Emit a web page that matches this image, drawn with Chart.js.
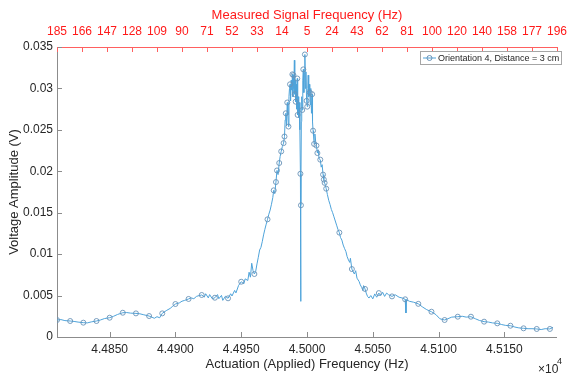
<!DOCTYPE html>
<html lang="en">
  <head>
    <meta charset="UTF-8" />
    <title>Voltage amplitude vs actuation frequency</title>
    <script src="https://cdn.jsdelivr.net/npm/chart.js"></script>
    <style>
      html, body { margin: 0; padding: 0; background: #fff; }
      canvas { display: block; }
    </style>
  </head>
  <body>
    <canvas id="sweep-chart" width="575" height="376"></canvas>

    <script>
      // actuation frequency (Hz) and measured amplitude (V)
      const freqHz = [
        44810, 44813, 44816, 44820, 44823, 44826, 44830, 44833, 44836, 44840,
        44843, 44846, 44850, 44853, 44856, 44860, 44863, 44866, 44870, 44873,
        44876, 44880, 44882, 44884, 44886, 44888, 44890, 44893, 44896, 44898,
        44900, 44903, 44905, 44907, 44910, 44912, 44914, 44916, 44918, 44920,
        44922, 44923, 44925, 44926, 44928, 44930, 44932, 44933, 44935, 44936,
        44938, 44940, 44942, 44943, 44945, 44946, 44948, 44950, 44952, 44953,
        44955, 44956, 44957, 44958, 44959, 44960, 44961, 44962, 44963, 44964,
        44965, 44966, 44967, 44968, 44969, 44970, 44971, 44972, 44973, 44974,
        44974.7, 44975.5, 44976.4, 44977.2, 44978.0, 44978.9, 44979.6, 44980.4, 44981.3, 44982.2,
        44982.9, 44983.4, 44983.9, 44984.4, 44985.0, 44985.5, 44985.9, 44986.3, 44986.7, 44987.1,
        44987.5, 44988.0, 44988.5, 44988.9, 44989.3, 44989.7, 44990.0, 44990.4, 44990.7, 44991.0,
        44991.4, 44991.8, 44992.2, 44992.6, 44992.9, 44993.3, 44993.7, 44994.1, 44994.6, 44995.0,
        44995.2, 44995.4, 44995.7, 44996.0, 44996.4, 44996.8, 44997.2, 44997.6, 44998.0, 44998.4,
        44998.8, 44999.2, 44999.7, 45000.2, 45000.6, 45000.9, 45001.3, 45001.7, 45002.1, 45002.5,
        45002.9, 45003.4, 45003.9, 45004.2, 45004.6, 45005.0, 45005.4, 45006.0, 45006.6, 45007.2,
        45007.9, 45008.5, 45009.2, 45010.1, 45010.8, 45011.5, 45012.2, 45012.8, 45013.4, 45014.0,
        45014.6, 45015.5, 45016.5, 45017.5, 45018.5, 45019.5, 45020.5, 45021.5, 45022.5, 45023.5,
        45024.6, 45025.5, 45026.5, 45027.5, 45028.5, 45029.6, 45030.5, 45031.5, 45032.5, 45033.0,
        45034.1, 45035.0, 45036.0, 45037.0, 45038.0, 45039.6, 45040.5, 45041.5, 45042.5, 45043.0,
        45044.1, 45045.0, 45046.0, 45047.1, 45048.5, 45050.0, 45051.5, 45053.0, 45054.6, 45056.0,
        45057.5, 45059.0, 45060.5, 45062.0, 45064.6, 45067.0, 45070.0, 45072.5, 45074.6, 45075.2,
        45075.6, 45078.0, 45081.0, 45084.6, 45088.0, 45091.0, 45094.6, 45098.0, 45101.0, 45104.6,
        45107.0, 45110.0, 45114.6, 45118.0, 45121.0, 45124.6, 45128.0, 45131.0, 45134.6, 45138.0,
        45141.0, 45144.6, 45148.0, 45151.0, 45154.6, 45158.0, 45161.0, 45164.6, 45168.0, 45171.0,
        45174.6, 45178.0, 45181.0, 45184.6, 45187.0
      ];
      const voltageV = [
        0.00205, 0.00210, 0.00198, 0.00193, 0.00188, 0.00180, 0.00173, 0.00170, 0.00182, 0.00193,
        0.00205, 0.00222, 0.00233, 0.00250, 0.00272, 0.00293, 0.00295, 0.00288, 0.00285, 0.00280,
        0.00268, 0.00253, 0.00240, 0.00226, 0.00245, 0.00232, 0.00285, 0.00318, 0.00345, 0.00372,
        0.00398, 0.00412, 0.00432, 0.00442, 0.00459, 0.00472, 0.00462, 0.00490, 0.00500, 0.00507,
        0.00482, 0.00522, 0.00472, 0.00512, 0.00462, 0.00474, 0.00512, 0.00462, 0.00502, 0.00442,
        0.00492, 0.00467, 0.00522, 0.00495, 0.00562, 0.00532, 0.00622, 0.00667, 0.00642, 0.00702,
        0.00682, 0.00782, 0.00722, 0.00890, 0.00800, 0.00760, 0.00792, 0.00882, 0.00962, 0.01050,
        0.01082, 0.01150, 0.01232, 0.01300, 0.01362, 0.01420, 0.01482, 0.01532, 0.01602, 0.01682,
        0.01770, 0.01730, 0.01870, 0.02010, 0.01960, 0.02100, 0.02180, 0.02240, 0.02300, 0.02340,
        0.02420, 0.02620, 0.02700, 0.02550, 0.02830, 0.02680, 0.02540, 0.02900, 0.03000, 0.03050,
        0.02850, 0.03100, 0.02980, 0.03170, 0.02900, 0.03160, 0.03000, 0.03340, 0.02930, 0.03100,
        0.02840, 0.03050, 0.02750, 0.03120, 0.02680, 0.02900, 0.02650, 0.02830, 0.02500, 0.01970,
        0.00430, 0.01590, 0.02600, 0.02900, 0.02740, 0.03100, 0.03230, 0.02950, 0.03180, 0.03410,
        0.03000, 0.03200, 0.02850, 0.02780, 0.03000, 0.03160, 0.02900, 0.03050, 0.02950, 0.02800,
        0.03000, 0.02700, 0.02930, 0.02600, 0.02490, 0.02420, 0.02330, 0.02450, 0.02360, 0.02310,
        0.02220, 0.02260, 0.02150, 0.02140, 0.02050, 0.02080, 0.01960, 0.01900, 0.01860, 0.01830,
        0.01790, 0.01720, 0.01650, 0.01600, 0.01540, 0.01500, 0.01450, 0.01400, 0.01350, 0.01300,
        0.01260, 0.01200, 0.01170, 0.01110, 0.01070, 0.01030, 0.00970, 0.00930, 0.00900, 0.00950,
        0.00820, 0.00790, 0.00760, 0.00800, 0.00710, 0.00670, 0.00630, 0.00600, 0.00560, 0.00620,
        0.00580, 0.00530, 0.00490, 0.00470, 0.00500, 0.00460, 0.00520, 0.00480, 0.00530, 0.00500,
        0.00540, 0.00490, 0.00530, 0.00510, 0.00490, 0.00510, 0.00480, 0.00470, 0.00455, 0.00290,
        0.00450, 0.00430, 0.00420, 0.00400, 0.00360, 0.00330, 0.00305, 0.00270, 0.00220, 0.00205,
        0.00220, 0.00240, 0.00245, 0.00250, 0.00240, 0.00245, 0.00220, 0.00200, 0.00185, 0.00180,
        0.00170, 0.00165, 0.00150, 0.00140, 0.00136, 0.00120, 0.00110, 0.00105, 0.00100, 0.00100,
        0.00097, 0.00090, 0.00100, 0.00097, 0.00117
      ];
      // samples that carry a circle marker
      const markerHz = [
        44810, 44820, 44830, 44840, 44850, 44860, 44870, 44880, 44890, 44900,
        44910, 44920, 44930, 44940, 44950, 44960, 44970, 44974.7, 44976.4, 44977.2,
        44978.9, 44980.4, 44982.2, 44982.9, 44983.9, 44985.0, 44985.9, 44987.1, 44988.9, 44989.7,
        44990.7, 44991.4, 44992.6, 44992.9, 44995.0, 44995.4, 44996.4, 44997.2, 44998.4, 44999.7,
        45000.2, 45002.1, 45003.9, 45004.6, 45005.4, 45007.2, 45007.9, 45010.1, 45012.2, 45012.8,
        45013.4, 45014.6, 45024.6, 45034.1, 45044.1, 45054.6, 45064.6, 45074.6, 45084.6, 45094.6,
        45104.6, 45114.6, 45124.6, 45134.6, 45144.6, 45154.6, 45164.6, 45174.6, 45184.6
      ];

      // axes
      const xTickHz = [44850, 44900, 44950, 45000, 45050, 45100, 45150];
      const yTickV = [0, 0.005, 0.01, 0.015, 0.02, 0.025, 0.03, 0.035];
      const topTickHz = [
        44810, 44829, 44848, 44867, 44886, 44905, 44924, 44943, 44962, 44981,
        45000, 45019, 45038, 45057, 45076, 45095, 45114, 45133, 45152, 45171, 45190
      ];
      const topTickLabels = [
        "185", "166", "147", "128", "109", "90", "71", "52", "33", "14",
        "5", "24", "43", "62", "81", "100", "120", "140", "158", "177", "196"
      ];
      const seriesName = "Orientation 4, Distance = 3 cm";

      const FONT = "'Liberation Sans', Arial, sans-serif";
      const LINE_BLUE = "#4ea3da";
      const MARK_BLUE = "#6a93b8";
      const AXIS_GRAY = "#8c8c8c";
      const TEXT_GRAY = "#262626";
      const RED = "#ff1a1a";

      // inward tick marks, legend box and the x10^4 exponent
      const axisDecor = {
        id: "axisDecor",
        afterDraw(chart) {
          const { ctx, chartArea: a, scales } = chart;
          ctx.save();
          ctx.lineWidth = 1;

          ctx.strokeStyle = AXIS_GRAY;
          ctx.beginPath();
          xTickHz.forEach((v) => {
            const px = Math.round(scales.x.getPixelForValue(v)) + 0.5;
            ctx.moveTo(px, a.bottom);
            ctx.lineTo(px, a.bottom - 5);
          });
          yTickV.forEach((v) => {
            const py = Math.round(scales.y.getPixelForValue(v)) + 0.5;
            ctx.moveTo(a.left, py);
            ctx.lineTo(a.left + 5, py);
          });
          ctx.stroke();

          ctx.strokeStyle = "#ff6060";
          ctx.beginPath();
          topTickHz.forEach((v) => {
            const px = Math.round(scales.x2.getPixelForValue(v)) + 0.5;
            ctx.moveTo(px, a.top);
            ctx.lineTo(px, a.top + 5);
          });
          ctx.stroke();

          // legend
          const lx = 420.5, ly = 51.5, lw = 141, lh = 13;
          ctx.fillStyle = "#fff";
          ctx.fillRect(lx, ly, lw, lh);
          ctx.strokeStyle = "#a6a6a6";
          ctx.strokeRect(lx, ly, lw, lh);
          ctx.strokeStyle = LINE_BLUE;
          ctx.beginPath();
          ctx.moveTo(423, ly + lh / 2);
          ctx.lineTo(436, ly + lh / 2);
          ctx.stroke();
          ctx.strokeStyle = MARK_BLUE;
          ctx.beginPath();
          ctx.arc(429.5, ly + lh / 2, 2.5, 0, Math.PI * 2);
          ctx.stroke();
          ctx.fillStyle = TEXT_GRAY;
          ctx.font = "9px " + FONT;
          ctx.textBaseline = "middle";
          ctx.textAlign = "left";
          ctx.fillText(seriesName, 438, ly + lh / 2 + 0.5);

          // exponent label of the bottom axis
          ctx.font = "12px " + FONT;
          ctx.fillText("\u00d710", 538, 370);
          ctx.font = "9px " + FONT;
          ctx.fillText("4", 557, 362);

          ctx.restore();
        },
      };

      const points = freqHz.map((f, i) => ({ x: f, y: voltageV[i] }));

      new Chart(document.getElementById("sweep-chart"), {
        type: "line",
        data: {
          datasets: [
            {
              label: seriesName,
              data: points,
              borderColor: LINE_BLUE,
              borderWidth: 1,
              tension: 0,
              pointStyle: "circle",
              pointRadius: (c) => (markerHz.includes(freqHz[c.dataIndex]) ? 2.5 : 0),
              pointBorderColor: MARK_BLUE,
              pointBorderWidth: 0.9,
              pointBackgroundColor: "rgba(0,0,0,0)",
              pointHoverRadius: 0,
            },
          ],
        },
        options: {
          responsive: false,
          animation: false,
          devicePixelRatio: 1,
          layout: { padding: { left: 0, right: 11, top: 0, bottom: 0 } },
          plugins: { legend: { display: false }, tooltip: { enabled: false } },
          scales: {
            x: {
              type: "linear",
              position: "bottom",
              min: 44810,
              max: 45190,
              grid: { display: false, drawTicks: false },
              border: { display: true, color: AXIS_GRAY, width: 1 },
              afterBuildTicks: (s) => { s.ticks = xTickHz.map((v) => ({ value: v })); },
              afterFit: (s) => { s.height = 39; },
              ticks: {
                autoSkip: false,
                maxRotation: 0,
                padding: 5,
                color: TEXT_GRAY,
                font: { family: FONT, size: 12 },
                callback: (v) => (v / 1e4).toFixed(4),
              },
              title: {
                display: true,
                text: "Actuation (Applied) Frequency (Hz)",
                color: TEXT_GRAY,
                font: { family: FONT, size: 13 },
                padding: { top: 0, bottom: 4 },
              },
            },
            x2: {
              type: "linear",
              position: "top",
              min: 44810,
              max: 45190,
              grid: { display: false, drawTicks: false },
              border: { display: true, color: "#ff6060", width: 1 },
              afterBuildTicks: (s) => { s.ticks = topTickHz.map((v) => ({ value: v })); },
              afterFit: (s) => { s.height = 47; },
              ticks: {
                autoSkip: false,
                maxRotation: 0,
                padding: 8,
                color: RED,
                font: { family: FONT, size: 12 },
                callback: (v, i) => topTickLabels[i],
              },
              title: {
                display: true,
                text: "Measured Signal Frequency (Hz)",
                color: RED,
                font: { family: FONT, size: 13 },
                padding: { top: 8, bottom: 0 },
              },
            },
            y: {
              type: "linear",
              position: "left",
              min: 0,
              max: 0.035,
              grid: { display: false, drawTicks: false },
              border: { display: true, color: AXIS_GRAY, width: 1 },
              afterBuildTicks: (s) => { s.ticks = yTickV.map((v) => ({ value: v })); },
              afterFit: (s) => { s.width = 57; },
              ticks: {
                autoSkip: false,
                padding: 4,
                color: TEXT_GRAY,
                font: { family: FONT, size: 12 },
                callback: (v) => String(+v.toFixed(3)),
              },
              title: {
                display: true,
                text: "Voltage Amplitude (V)",
                color: TEXT_GRAY,
                font: { family: FONT, size: 13 },
                padding: { top: 7, bottom: 0 },
              },
            },
          },
        },
        plugins: [axisDecor],
      });
    </script>
  </body>
</html>
